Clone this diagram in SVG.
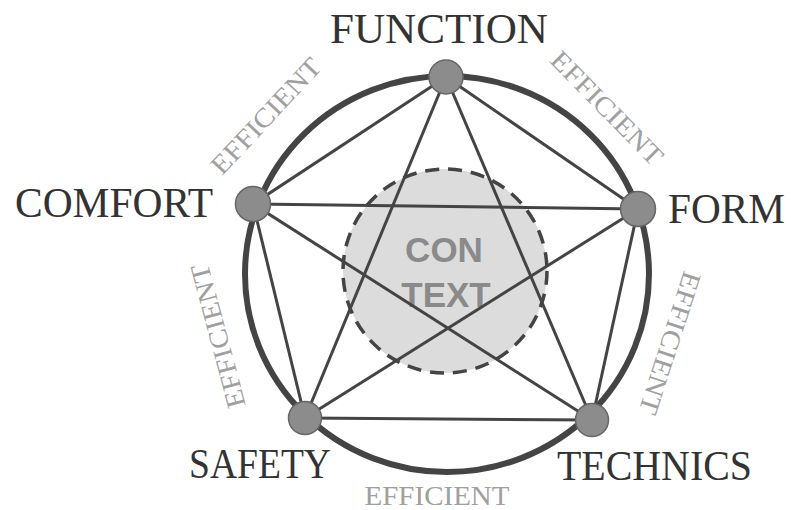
<svg xmlns="http://www.w3.org/2000/svg" width="791" height="510" viewBox="0 0 791 510">
<style>
.lbl{font-family:"Liberation Serif",serif;font-size:42px;fill:#333;}
.eff{font-family:"Liberation Serif",serif;font-size:27px;fill:#a0a0a0;}
.ctx{font-family:"Liberation Sans",Arial,sans-serif;font-size:35px;font-weight:bold;fill:#8a8a8a;}
.edge{stroke:#444;stroke-width:3;fill:none;}
.node{fill:#8c8c8c;stroke:#666;stroke-width:1.5;}
</style>
<rect width="791" height="510" fill="#fff"/>
<g id="context">
<circle cx="445" cy="271" r="102" fill="#dcdcdc" stroke="#444" stroke-width="3.5" stroke-dasharray="14 9"/>
<text class="ctx" x="444" y="262" text-anchor="middle">CON</text>
<text class="ctx" x="446" y="307" text-anchor="middle">TEXT</text>
</g>
<g id="ring">
<ellipse cx="447" cy="274" rx="202" ry="198" fill="none" stroke="#444" stroke-width="6"/>
</g>
<g id="connectors">
<line class="edge" x1="446" y1="77" x2="253" y2="204"/>
<line class="edge" x1="446" y1="77" x2="638" y2="209"/>
<line class="edge" x1="446" y1="77" x2="305" y2="418"/>
<line class="edge" x1="446" y1="77" x2="592" y2="420"/>
<line class="edge" x1="253" y1="204" x2="638" y2="209"/>
<line class="edge" x1="253" y1="204" x2="305" y2="418"/>
<line class="edge" x1="253" y1="204" x2="592" y2="420"/>
<line class="edge" x1="638" y1="209" x2="305" y2="418"/>
<line class="edge" x1="638" y1="209" x2="592" y2="420"/>
<line class="edge" x1="305" y1="418" x2="592" y2="420"/>
</g>
<g id="function">
<circle class="node" cx="446" cy="77" r="17"/>
<text class="lbl" x="330" y="43" textLength="218" lengthAdjust="spacingAndGlyphs">FUNCTION</text>
</g>
<g id="comfort">
<circle class="node" cx="253" cy="204" r="17.5"/>
<text class="lbl" x="15" y="217" textLength="198" lengthAdjust="spacingAndGlyphs">COMFORT</text>
</g>
<g id="form">
<circle class="node" cx="638" cy="209" r="17.5"/>
<text class="lbl" x="668" y="223" textLength="117" lengthAdjust="spacingAndGlyphs">FORM</text>
</g>
<g id="safety">
<circle class="node" cx="305" cy="418" r="16.5"/>
<text class="lbl" x="189" y="478" textLength="142" lengthAdjust="spacingAndGlyphs">SAFETY</text>
</g>
<g id="technics">
<circle class="node" cx="592" cy="420" r="16.5"/>
<text class="lbl" x="557" y="480" textLength="195" lengthAdjust="spacingAndGlyphs">TECHNICS</text>
</g>
<g id="efficient-labels">
<text class="eff" transform="translate(266,116) rotate(-47)" x="0" y="9" text-anchor="middle" textLength="148" lengthAdjust="spacingAndGlyphs">EFFICIENT</text>
<text class="eff" transform="translate(607,108) rotate(45.5)" x="0" y="9" text-anchor="middle" textLength="148" lengthAdjust="spacingAndGlyphs">EFFICIENT</text>
<text class="eff" transform="translate(218,336) rotate(-105)" x="0" y="9" text-anchor="middle" textLength="148" lengthAdjust="spacingAndGlyphs">EFFICIENT</text>
<text class="eff" transform="translate(670,343) rotate(108)" x="0" y="9" text-anchor="middle" textLength="148" lengthAdjust="spacingAndGlyphs">EFFICIENT</text>
<text class="eff" x="437" y="505" text-anchor="middle" textLength="145" lengthAdjust="spacingAndGlyphs">EFFICIENT</text>
</g>
</svg>
